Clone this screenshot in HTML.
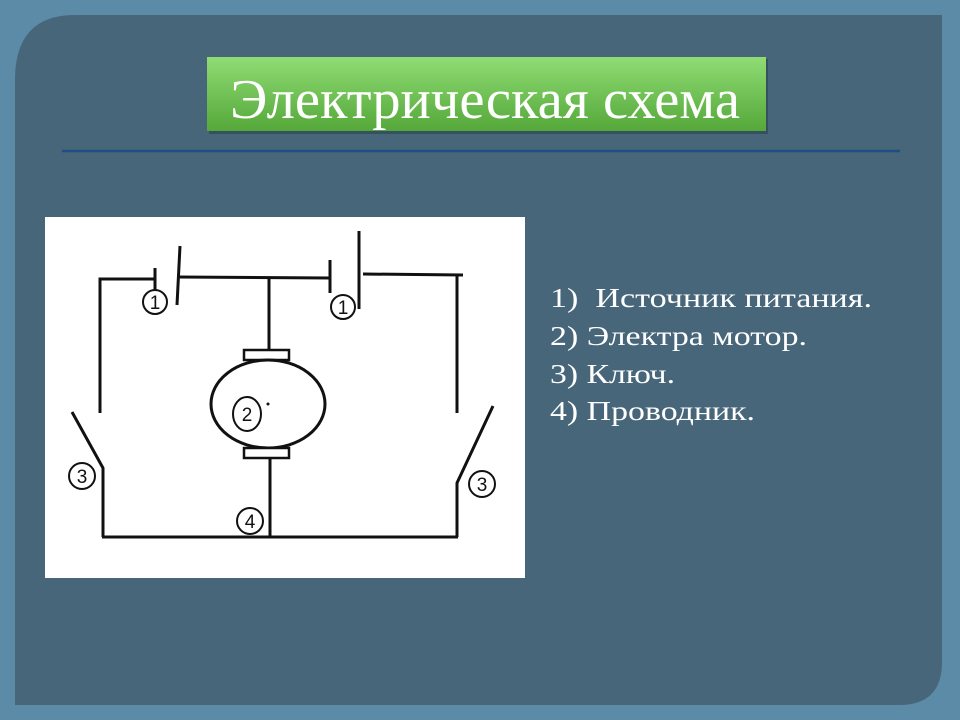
<!DOCTYPE html>
<html><head><meta charset="utf-8"><style>
html,body{margin:0;padding:0;width:960px;height:720px;overflow:hidden;background:#5b8ba6}
</style></head><body>
<svg width="960" height="720" viewBox="0 0 960 720" xmlns="http://www.w3.org/2000/svg">
<defs>
<linearGradient id="g" x1="0" y1="0" x2="0" y2="1">
<stop offset="0" stop-color="#8fdc74"/><stop offset="1" stop-color="#55a83a"/>
</linearGradient>
</defs>
<rect width="960" height="720" fill="#5b8ba6"/>
<path d="M75,15 H942 V662 Q942,705 899,705 H15 V80 Q15,15 75,15 Z" fill="#47667a"/>
<rect x="209" y="59" width="559" height="75" fill="#2f4756" opacity="0.7"/>
<rect x="207" y="57" width="559" height="74" fill="url(#g)"/>
<text x="485" y="118" text-anchor="middle" font-family="Liberation Serif, serif" font-size="56" fill="#fff" textLength="510" lengthAdjust="spacingAndGlyphs">Электрическая схема</text>
<line x1="62" y1="151" x2="900" y2="151" stroke="#1f4f80" stroke-width="2.5"/>
<g font-family="Liberation Serif, serif" font-size="27" fill="#fff">
<text x="550" y="307" textLength="322" lengthAdjust="spacingAndGlyphs" xml:space="preserve">1)  Источник питания.</text>
<text x="550" y="345" textLength="257" lengthAdjust="spacingAndGlyphs">2) Электра мотор.</text>
<text x="550" y="383" textLength="125" lengthAdjust="spacingAndGlyphs">3) Ключ.</text>
<text x="550" y="420" textLength="205" lengthAdjust="spacingAndGlyphs">4) Проводник.</text>
</g>
<rect x="45" y="217" width="480" height="361" fill="#fff"/>
<g stroke="#111" stroke-width="3" fill="none">
<polyline points="100,413 100,279 155,279"/>
<line x1="155" y1="268" x2="155" y2="290"/>
<line x1="180" y1="246" x2="177" y2="305"/>
<line x1="178" y1="277" x2="330" y2="278"/>
<line x1="330" y1="260" x2="330" y2="293"/>
<line x1="359" y1="231" x2="359" y2="309"/>
<polyline points="363,274 463,275"/>
<line x1="457" y1="275" x2="457" y2="413"/>
<line x1="269" y1="278" x2="269" y2="350"/>
<rect x="244" y="350" width="45" height="10" stroke-width="2.5"/>
<ellipse cx="268" cy="404" rx="57" ry="44" fill="#fff"/>
<rect x="244" y="448" width="45" height="10" stroke-width="2.5" fill="#fff"/>
<line x1="270" y1="458" x2="270" y2="537"/>
<line x1="102" y1="537" x2="458" y2="537"/>
<polyline points="72,412 103,468 103,537"/>
<polyline points="493,406 457,483 457,537"/>
</g>
<g stroke="#111" stroke-width="2" fill="#fff">
<circle cx="155" cy="302" r="12"/>
<circle cx="343" cy="307" r="12"/>
<ellipse cx="247" cy="414" rx="14" ry="17"/>
<circle cx="82" cy="476" r="13"/>
<circle cx="482" cy="484" r="13"/>
<circle cx="250" cy="521" r="13"/>
</g>
<circle cx="268" cy="404" r="1.5" fill="#111"/>
<g font-family="Liberation Sans, sans-serif" font-size="19" fill="#111" text-anchor="middle">
<text x="155" y="309">1</text>
<text x="343" y="314">1</text>
<text x="247" y="421">2</text>
<text x="82" y="483">3</text>
<text x="482" y="491">3</text>
<text x="250" y="528">4</text>
</g>
</svg>
</body></html>
